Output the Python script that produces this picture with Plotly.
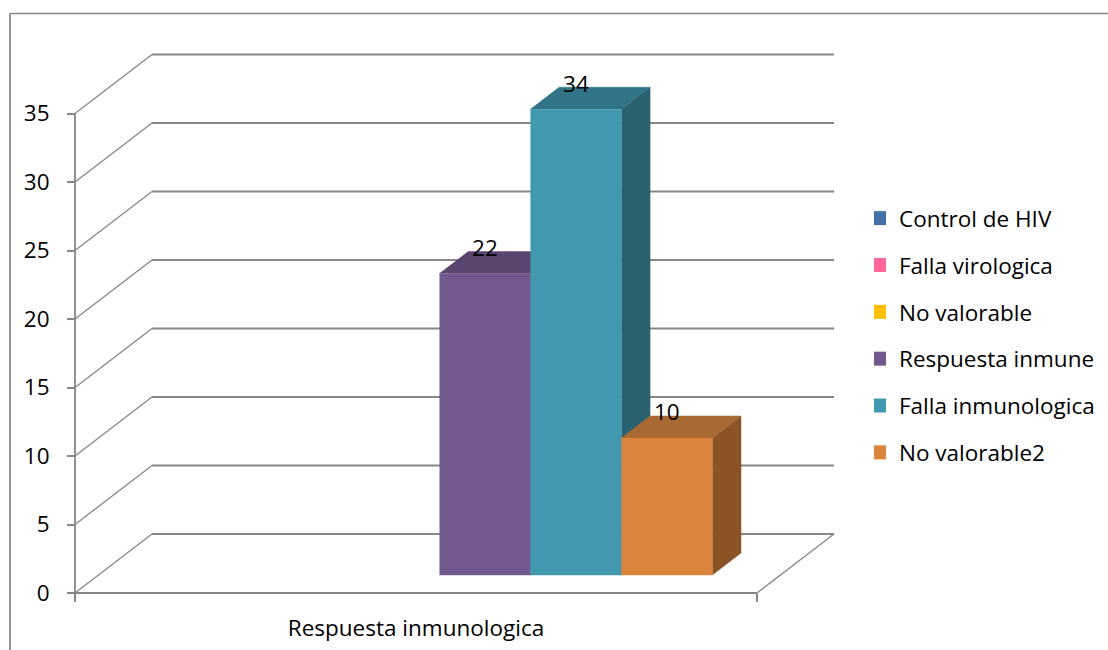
import plotly.graph_objects as go

# Chart data
category = "Respuesta inmunologica"
series_names = ["Control de HIV", "Falla virologica", "No valorable",
                "Respuesta inmune", "Falla inmunologica", "No valorable2"]
series_values = [None, None, None, 22, 34, 10]
front_colors = ["#4572A7", "#FF6699", "#FFC000", "#71588F", "#4198AF", "#DB843D"]
top_colors = ["#35567D", "#BF4D73", "#BF9000", "#5A4570", "#317488", "#A86A32"]
side_colors = ["#2B4563", "#993D5C", "#997300", "#483858", "#2A6170", "#8B5426"]
y_ticks = [0, 5, 10, 15, 20, 25, 30, 35]

# Page and oblique-projection settings
WIDTH, HEIGHT = 1108, 650
AXIS_LEFT, AXIS_RIGHT = 75, 757
AXIS_BOTTOM, AXIS_TOP = 593, 113.5
Y_MAX = 35
DEPTH_DX, DEPTH_DY = 77, 59
GRID = "#868686"
FONT = "Open Sans, sans-serif"
TEXT_SIZE = 22.5

x_scale = AXIS_RIGHT - AXIS_LEFT
y_scale = (AXIS_BOTTOM - AXIS_TOP) / Y_MAX
depth_x = DEPTH_DX / x_scale
depth_y = DEPTH_DY / y_scale

BAR_SLOTS = len(series_names) + 1.5
BAR_WIDTH = 1 / BAR_SLOTS
BAR_FRONT, BAR_BACK = 0.305, 0.678
LABEL_DEPTH = 0.70


def project(x, value, depth=0.0):
    """Map category position, value and depth onto the flat plot axes."""
    return x + depth * depth_x, value + depth * depth_y


def path(points):
    xs, ys = zip(*(project(*p) for p in points))
    return list(xs), list(ys)


fig = go.Figure()


def add_line(points, width=1.8):
    xs, ys = path(points)
    fig.add_trace(go.Scatter(x=xs, y=ys, mode="lines", showlegend=False, hoverinfo="skip",
                             line=dict(color=GRID, width=width)))


def add_face(points, color):
    xs, ys = path(points)
    fig.add_trace(go.Scatter(x=xs, y=ys, mode="lines", fill="toself", fillcolor=color,
                             line=dict(color=color, width=0.5),
                             showlegend=False, hoverinfo="skip"))


# Walls: gridlines on the side and back panels, then the floor outline
for tick in y_ticks:
    add_line([(0, tick, 0), (0, tick, 1)], width=1.3)
    add_line([(0, tick, 1), (1, tick, 1)])
add_line([(0, 0, 0), (0, Y_MAX, 0)])
add_line([(0, 0, 0), (1, 0, 0)])
add_line([(1, 0, 0), (1, 0, 1)], width=1.3)

# Bars, left to right so each one overlaps its neighbour's side face
for i, value in enumerate(series_values):
    if value is None:
        continue
    x0 = (0.75 + i) * BAR_WIDTH
    x1 = x0 + BAR_WIDTH
    add_face([(x1, 0, BAR_FRONT), (x1, 0, BAR_BACK), (x1, value, BAR_BACK), (x1, value, BAR_FRONT)],
             side_colors[i])
    add_face([(x0, value, BAR_FRONT), (x0, value, BAR_BACK), (x1, value, BAR_BACK), (x1, value, BAR_FRONT)],
             top_colors[i])
    add_face([(x0, 0, BAR_FRONT), (x1, 0, BAR_FRONT), (x1, value, BAR_FRONT), (x0, value, BAR_FRONT)],
             front_colors[i])

# Value labels above each bar
label_x, label_y, label_text = [], [], []
for i, value in enumerate(series_values):
    if value is None:
        continue
    label_x.append(project((1.25 + i) * BAR_WIDTH, value, BAR_FRONT)[0])
    label_y.append(project(0, value, LABEL_DEPTH)[1])
    label_text.append(str(value))
fig.add_trace(go.Scatter(x=label_x, y=label_y, text=label_text, mode="text",
                         textposition="middle center", showlegend=False, hoverinfo="skip",
                         textfont=dict(family=FONT, size=TEXT_SIZE, color="#000000")))

# Legend entries, one per series
for i, name in enumerate(series_names):
    fig.add_trace(go.Scatter(x=[None], y=[None], mode="markers", name=name, legendgroup=name,
                             marker=dict(symbol="square", size=14, color=front_colors[i])))

# Axes span the whole page so the projection stays in pixel proportion
x_range = [-AXIS_LEFT / x_scale, (WIDTH - AXIS_LEFT) / x_scale]
y_range = [-(HEIGHT - AXIS_BOTTOM) / y_scale, AXIS_BOTTOM / y_scale]

fig.update_layout(
    width=WIDTH, height=HEIGHT, autosize=False,
    margin=dict(l=0, r=0, t=0, b=0),
    paper_bgcolor="#FFFFFF", plot_bgcolor="#FFFFFF",
    font=dict(family=FONT, size=TEXT_SIZE, color="#000000"),
    xaxis=dict(range=x_range, domain=[0, 1], anchor="free",
               position=(HEIGHT - AXIS_BOTTOM) / HEIGHT,
               tickmode="array", tickvals=[0.5], ticktext=[category],
               ticks="", ticklabelstandoff=19, showgrid=False, zeroline=False, showline=False,
               minor=dict(tickmode="array", tickvals=[0, 1], ticks="outside", ticklen=8,
                          tickwidth=1.7, tickcolor=GRID, showgrid=False),
               tickfont=dict(family=FONT, size=TEXT_SIZE, color="#000000")),
    yaxis=dict(range=y_range, domain=[0, 1], anchor="free",
               position=AXIS_LEFT / WIDTH,
               tickmode="array", tickvals=y_ticks,
               ticks="outside", ticklen=8, tickwidth=1.7, tickcolor=GRID,
               ticklabelstandoff=13, showgrid=False, zeroline=False, showline=False,
               tickfont=dict(family=FONT, size=TEXT_SIZE, color="#000000")),
    legend=dict(x=874 / WIDTH, y=1 - 197 / HEIGHT, xanchor="left", yanchor="top",
                bgcolor="rgba(0,0,0,0)", tracegroupgap=14.6, indentation=-15,
                font=dict(family=FONT, size=TEXT_SIZE, color="#000000")),
    shapes=[
        dict(type="line", xref="paper", yref="paper", x0=10 / WIDTH, x1=1,
             y0=1 - 13.5 / HEIGHT, y1=1 - 13.5 / HEIGHT, line=dict(color=GRID, width=1.7)),
        dict(type="line", xref="paper", yref="paper", x0=10 / WIDTH, x1=10 / WIDTH,
             y0=0, y1=1 - 13.5 / HEIGHT, line=dict(color=GRID, width=1.7)),
    ],
)

fig.write_html("out.html")
